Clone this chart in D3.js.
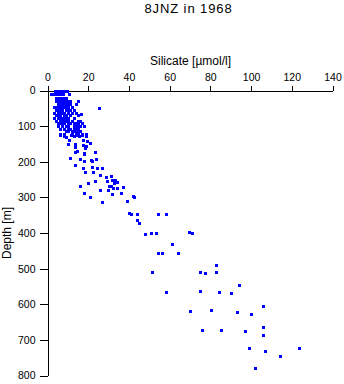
<!DOCTYPE html>
<html>
<head>
<meta charset="utf-8">
<script src="https://cdn.jsdelivr.net/npm/d3@7"></script>
<style>
  html, body { margin: 0; padding: 0; background: #fff; }
  svg { display: block; font-family: "Liberation Sans", Arial, sans-serif; }
</style>
</head>
<body>
<svg id="chart" width="344" height="384"></svg>
<script>
// ---- data ----
const title = "8JNZ in 1968";
const xLabel = "Silicate [\u00B5mol/l]";
const yLabel = "Depth [m]";
const xTicks = [0, 20, 40, 60, 80, 100, 120, 140];
const yTicks = [0, 100, 200, 300, 400, 500, 600, 700, 800];

// silicate [µmol/l] and depth [m], pairwise
const silicate = [
  3.5,4,4.5,5,5.5,6,6.5,7,7.5,8,8.5,9,9.5,
  1.5,2,2.5,3,3.5,4,4.5,5,5.5,6,6.5,7,7.5,10.5,
  4,5,6,7,8,9,
  4,5,6,7,8,9.5,11,15,
  5,6,7,8,9,10,11,14,
  3,4,5,6,7,8,9,10,12,
  25.5,
  4,5,6,7,9,10,11,13,
  3,5,6,7,8,10,12,14,
  4,5,6,8,9,11,15,16.5,
  3,5,6,7,8,9,10,13,
  4,6,7,8,9,10,12,15,16,
  5,6,7,8,10,11,13,14,15,17,
  5,7,9,10,13,14,15,16,18,
  6,8,10,11,13,14,15,
  9,10,12,13,14,15,16,
  6,8,12,14,15,17,19,
  6.1,7.9,9,10.8,11.6,12.8,14.7,15.7,16.9,17.4,18.9,
  19.5,21,10,13.3,13.5,17.2,19,18.4,14.4,13.5,18,18,23.1,
  11,15.9,18,21.3,22,23.9,13.3,17.4,22.1,24.1,27,18.2,22.3,
  25.9,28.8,31.2,31.6,33.1,16.2,20.1,23.3,26,29.5,32.1,34.1,37,17.9,
  29,30.3,31.2,32.9,34.1,21.1,31.9,36.1,42,42.5,39.2,27,
  40.1,41.1,43.9,43.9,45.1,54.1,58,48,51,53.1,69.6,71,61,54.1,56,63.9,
  83,51.1,75,77.2,83,93.9,58,75,84,89.9,106,70,80.1,92.9,100.1,
  76,85,97,106,106,99.1,107,123.7,114,102.1
];
const depth = [
  0,0,0,0,0,0,0,0,0,0,0,0,0,
  10,10,10,10,10,10,10,10,10,10,10,10,10,10,
  20,20,20,20,20,20,
  30,30,30,30,30,30,30,29,
  38,38,38,38,38,38,38,37,
  45,45,45,45,45,45,45,45,45,
  50,
  55,55,55,55,55,55,55,55,
  62,62,62,62,62,62,62,62,
  70,70,70,70,70,70,68,67,
  78,78,78,78,78,78,78,78,
  85,85,85,85,85,85,85,85,86,
  92,92,92,92,92,92,92,92,92,92,
  100,100,100,100,100,100,100,100,100,
  108,108,108,108,108,108,108,
  115,115,115,115,115,115,115,
  122,122,122,122,122,122,122,
  124,129,131,138,126,128,125,129,124,139,127,
  143,147,151,151,159,153,155,161,169,172,175,178,173,
  190,192,197,194,198,193,210,217,214,217,218,230,230,
  238,242,240,251,250,269,259,255,279,278,274,275,272,288,
  255,267,269,260,257,299,290,288,296,298,309,314,
  344,347,347,364,373,348,347,403,400,401,397,401,432,455,457,455,
  490,510,510,511,510,547,566,564,567,569,605,620,616,623,628,
  673,671,676,665,687,724,730,723,746,778
];

// ---- drawing ----
const svg = d3.select("#chart");
const x = d3.scaleLinear().domain([0, 140]).range([47.5, 332.5]);
const y = d3.scaleLinear().domain([0, 800]).range([90.5, 375.5]);

svg.append("text")
  .attr("x", 188.5).attr("y", 13)
  .attr("text-anchor", "middle")
  .style("font-size", "13px")
  .style("letter-spacing", "0.9px")
  .text(title);

const xAxis = svg.append("g")
  .attr("transform", "translate(0,90.5)")
  .call(d3.axisTop(x).tickValues(xTicks).tickSize(5).tickSizeOuter(0).tickPadding(5));
const yAxis = svg.append("g")
  .attr("transform", "translate(47.5,0)")
  .call(d3.axisLeft(y).tickValues(yTicks).tickSize(8).tickSizeOuter(0).tickPadding(4));

[xAxis, yAxis].forEach(g => {
  g.selectAll("path, line").attr("stroke", "#000").attr("shape-rendering", "crispEdges");
  g.selectAll("text").attr("fill", "#000").style("font-size", "10.5px").style("font-family", "'Liberation Sans', Arial, sans-serif");
});

svg.append("text")
  .attr("x", 190.5).attr("y", 65)
  .attr("text-anchor", "middle")
  .style("font-size", "12px")
  .text(xLabel);

svg.append("text")
  .attr("transform", "translate(10.5,233) rotate(-90)")
  .attr("text-anchor", "middle")
  .style("font-size", "12px")
  .text(yLabel);

const pts = silicate.map((s, i) => ({ s, d: depth[i] }));
svg.append("g").selectAll("rect").data(pts).join("rect")
  .attr("x", p => Math.round(x(p.s)) - 1.5)
  .attr("y", p => Math.round(y(p.d)) - 1.5)
  .attr("width", 3).attr("height", 3)
  .attr("fill", "#0000ff")
  .attr("shape-rendering", "crispEdges");
</script>
</body>
</html>
